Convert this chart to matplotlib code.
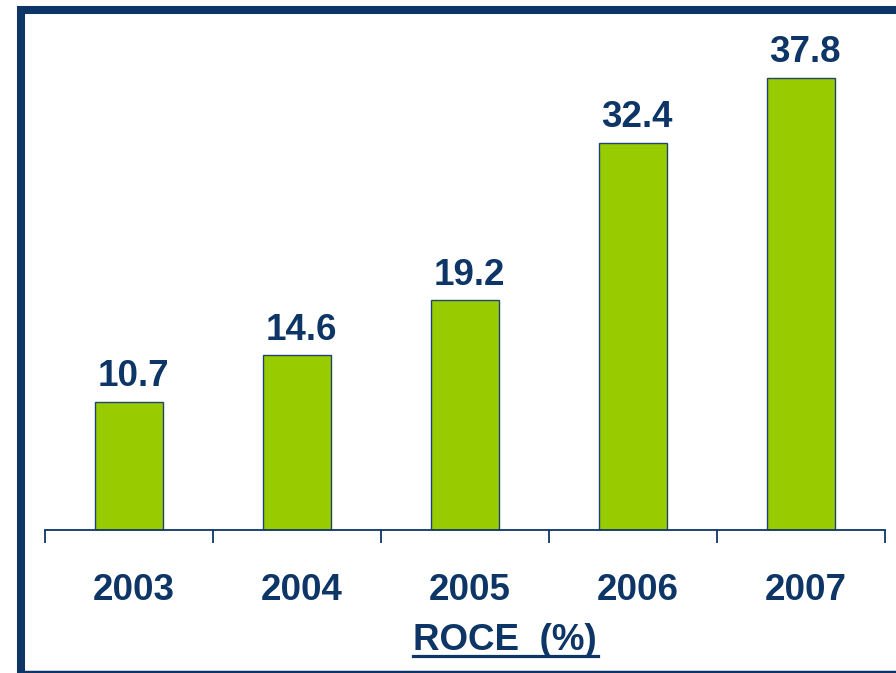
import matplotlib
matplotlib.use('Agg')
import matplotlib.pyplot as plt
from matplotlib.patches import Rectangle
from matplotlib.lines import Line2D
from matplotlib.transforms import ScaledTranslation

years = ['2003', '2004', '2005', '2006', '2007']
roce = [10.7, 14.6, 19.2, 32.4, 37.8]

navy = '#0D3566'
green = '#99CC00'

plt.rcParams['font.family'] = ['Liberation Sans', 'DejaVu Sans']

fig = plt.figure(figsize=(8.96, 6.73), dpi=100)
ax = fig.add_axes([45 / 896, (673 - 530) / 673, 840 / 896, 514 / 673])

x = list(range(len(years)))
bars = ax.bar(x, roce, width=0.405, color=green, edgecolor='#1F4470', linewidth=1.0)

# value labels above bars
for xi, v in zip(x, roce):
    ax.annotate(f'{v:.1f}', (xi, v), xytext=(3, 11.5), textcoords='offset points',
                ha='center', va='baseline', fontsize=26.5, fontweight='bold', color=navy)

ax.set_xlim(-0.5, len(years) - 0.5)
ax.set_ylim(0, 43)

# boundary ticks (major) and year labels (minor)
ax.set_xticks([i - 0.5 for i in range(len(years) + 1)])
ax.set_xticklabels([])
ax.set_xticks(x, minor=True)
ax.set_xticklabels(years, minor=True, fontsize=26.5, fontweight='bold', color=navy)
ax.tick_params(axis='x', which='major', length=9, width=1.3, color=navy, direction='out')
ax.tick_params(axis='x', which='minor', length=0, pad=31)
ax.set_yticks([])
shift = ScaledTranslation(5 / 100, 0, fig.dpi_scale_trans)
for lab in ax.get_xticklabels(minor=True):
    lab.set_transform(lab.get_transform() + shift)

for s in ['top', 'right', 'left']:
    ax.spines[s].set_visible(False)
ax.spines['bottom'].set_color(navy)
ax.spines['bottom'].set_linewidth(1.3)

# title below axis, underlined
fig.text(505 / 896, 1 - 650 / 673, 'ROCE  (%)', ha='center', va='baseline',
         fontsize=26.5, fontweight='bold', color=navy)
fig.add_artist(Line2D([413 / 896, 598 / 896], [1 - 655.5 / 673, 1 - 655.5 / 673],
                      transform=fig.transFigure, color=navy, linewidth=2.3))

# outer frame
fig.add_artist(Rectangle((21 / 896, -10 / 673), 1.0, 1 - 11 / 673 + 10 / 673 + 1 / 673,
                         transform=fig.transFigure, fill=False, edgecolor=navy,
                         linewidth=5.8, clip_on=False))
fig.add_artist(Line2D([21 / 896, 1.0], [1 - 672 / 673, 1 - 672 / 673],
                      transform=fig.transFigure, color=navy, linewidth=2.5))

fig.savefig('out.png', dpi=100)
